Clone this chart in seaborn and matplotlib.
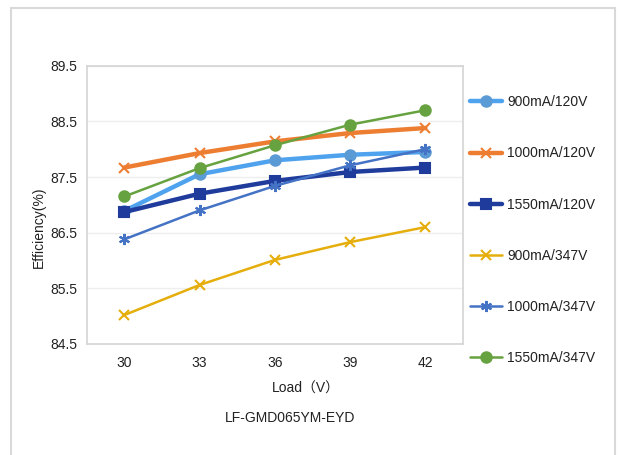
import matplotlib
matplotlib.use("Agg")
import matplotlib.pyplot as plt
import seaborn as sns
import pandas as pd
from matplotlib.patches import Rectangle

loads = [30, 33, 36, 39, 42]
s900_120 = [86.89, 87.55, 87.80, 87.90, 87.95]
s1000_120 = [87.67, 87.93, 88.14, 88.29, 88.38]
s1550_120 = [86.87, 87.20, 87.43, 87.59, 87.67]
s900_347 = [85.02, 85.56, 86.01, 86.33, 86.60]
s1000_347 = [86.38, 86.90, 87.34, 87.71, 88.00]
s1550_347 = [87.15, 87.66, 88.07, 88.44, 88.70]

series_names = ["900mA/120V", "1000mA/120V", "1550mA/120V",
                "900mA/347V", "1000mA/347V", "1550mA/347V"]
series_vals = [s900_120, s1000_120, s1550_120, s900_347, s1000_347, s1550_347]
colors = ["#4FA3EE", "#ED7D31", "#1F3C9C", "#E5AE0C", "#4472C4", "#66A23F"]
marker_colors = ["#5B9BD5", "#ED7D31", "#1F3C9C", "#E5AE0C", "#4472C4", "#66A23F"]
markers = ["o", "x", "s", "x", (6, 2, 0), "o"]
msizes = [7.5, 7, 6.5, 7, 8, 7.5]
lws = [3.2, 3.2, 3.2, 1.8, 1.8, 1.8]

rows = []
for name, vals in zip(series_names, series_vals):
    for x, v in zip(loads, vals):
        rows.append({"Load": x, "Efficiency": v, "Series": name})
df = pd.DataFrame(rows)

sns.set_theme(style="white")
plt.rcParams['font.family'] = ['Liberation Sans', 'Noto Sans CJK SC', 'DejaVu Sans']

fig = plt.figure(figsize=(6.19, 4.55), dpi=100)
ax = fig.add_axes([0.140, 0.244, 0.608, 0.6116])

for name, c, mc, m, ms, lw in zip(series_names, colors, marker_colors, markers, msizes, lws):
    sub = df[df["Series"] == name]
    sns.lineplot(data=sub, x="Load", y="Efficiency", ax=ax, color=c, linewidth=lw,
                 marker=m, markersize=ms, markerfacecolor=mc, markeredgecolor=mc,
                 markeredgewidth=1.5, label=name, zorder=3)

ax.set_xlim(28.5, 43.5)
ax.set_ylim(84.5, 89.5)
ax.set_xticks(loads)
ax.set_yticks([84.5, 85.5, 86.5, 87.5, 88.5, 89.5])
ax.set_yticklabels(["84.5", "85.5", "86.5", "87.5", "88.5", "89.5"])
ax.tick_params(axis='y', length=0, labelsize=10, colors="#222222", pad=7)
ax.tick_params(axis='x', length=0, labelsize=10, colors="#222222", pad=9)
ax.yaxis.grid(True, color="#EEEEEE", linewidth=1)
ax.xaxis.grid(False)
for sp in ax.spines.values():
    sp.set_color("#D4D4D4")
    sp.set_linewidth(1.2)
ax.set_xlabel("")
ax.set_ylabel("Efficiency(%)", fontsize=10, color="#222222")
ax.yaxis.set_label_coords(-0.108, 0.42)

leg = ax.legend(loc="upper left", bbox_to_anchor=(0.751, 0.803), bbox_transform=fig.transFigure,
                frameon=False, fontsize=10, handlelength=2.3, handletextpad=0.35,
                labelspacing=2.68, borderaxespad=0)
for t in leg.get_texts():
    t.set_color("#222222")

fig.text(306 / 619, 1 - 389 / 455, "Load（V）", ha="center", va="center", fontsize=10, color="#222222")
fig.text(290 / 619, 1 - 418 / 455, "LF-GMD065YM-EYD", ha="center", va="center", fontsize=10, color="#222222")

fig.patches.append(Rectangle((11 / 619, -0.05), (615 - 11) / 619, 1 - 8 / 455 + 0.05,
                             transform=fig.transFigure, fill=False, edgecolor="#D9D9D9",
                             linewidth=1.5))

fig.savefig("out.png", dpi=100)
